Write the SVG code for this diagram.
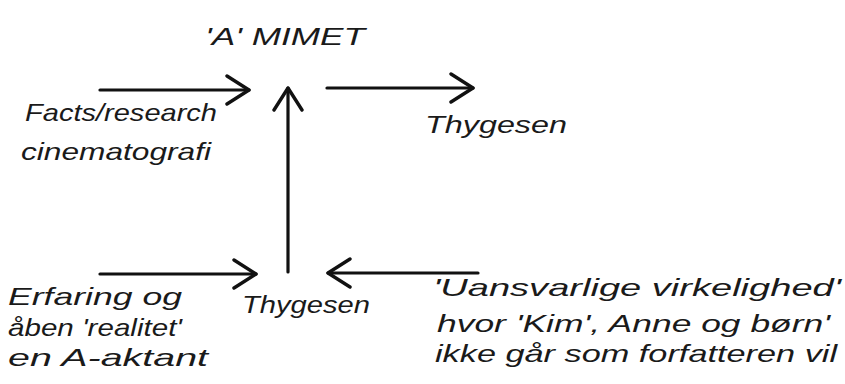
<svg xmlns="http://www.w3.org/2000/svg" width="845" height="384" viewBox="0 0 845 384">
<style>
.t{font-family:"Liberation Sans","DejaVu Sans",sans-serif;font-style:italic;font-size:24px;fill:#1a1a1a;}
.c{stroke:#111;stroke-width:3.2;fill:none;stroke-linecap:round;}
</style>
<defs>
<marker id="chev" viewBox="0 0 26 32" refX="24" refY="16" markerWidth="26" markerHeight="32" markerUnits="userSpaceOnUse" orient="auto">
<path d="M2,2 L24,16 L2,30" fill="none" stroke="#111" stroke-width="3.4" stroke-linecap="round" stroke-linejoin="round"/>
</marker>
</defs>
<rect width="845" height="384" fill="#fff"/>
<g id="connectors">
<line class="c" x1="100" y1="90" x2="249" y2="90" marker-end="url(#chev)"/>
<line class="c" x1="327" y1="88" x2="473" y2="88" marker-end="url(#chev)"/>
<line class="c" x1="288" y1="272" x2="288" y2="88" marker-end="url(#chev)"/>
<line class="c" x1="100" y1="274" x2="256" y2="274" marker-end="url(#chev)"/>
<line class="c" x1="478" y1="273" x2="328" y2="273" marker-end="url(#chev)"/>
</g>
<g id="mimet">
<text class="t" x="205" y="45" font-size="28" textLength="160" lengthAdjust="spacingAndGlyphs">'A' MIMET</text>
</g>
<g id="facts">
<text class="t" x="25" y="121" textLength="192" lengthAdjust="spacingAndGlyphs">Facts/research</text>
<text class="t" x="21" y="160" textLength="190" lengthAdjust="spacingAndGlyphs">cinematografi</text>
</g>
<g id="thygesen-top">
<text class="t" x="425" y="133" textLength="142" lengthAdjust="spacingAndGlyphs">Thygesen</text>
</g>
<g id="thygesen-bottom">
<text class="t" x="242" y="313" textLength="128" lengthAdjust="spacingAndGlyphs">Thygesen</text>
</g>
<g id="erfaring">
<text class="t" x="8" y="305" textLength="174" lengthAdjust="spacingAndGlyphs">Erfaring og</text>
<text class="t" x="8" y="336" textLength="174" lengthAdjust="spacingAndGlyphs">åben 'realitet'</text>
<text class="t" x="8" y="366" textLength="200" lengthAdjust="spacingAndGlyphs">en A-aktant</text>
</g>
<g id="virkelighed">
<text class="t" x="433" y="296" textLength="408" lengthAdjust="spacingAndGlyphs">'Uansvarlige virkelighed'</text>
<text class="t" x="437" y="332" textLength="393" lengthAdjust="spacingAndGlyphs">hvor 'Kim', Anne og børn'</text>
<text class="t" x="435" y="362" textLength="402" lengthAdjust="spacingAndGlyphs">ikke går som forfatteren vil</text>
</g>
</svg>
